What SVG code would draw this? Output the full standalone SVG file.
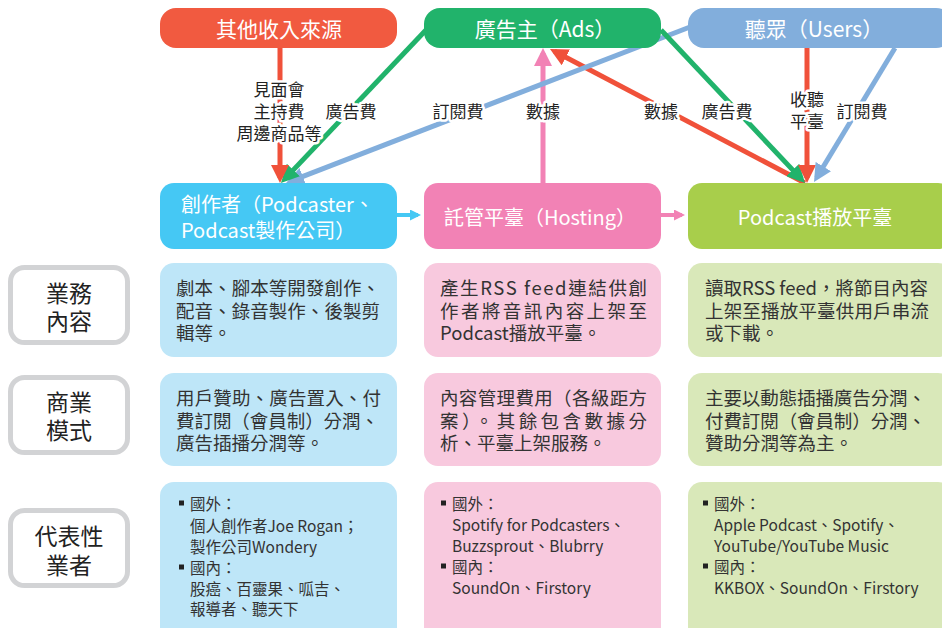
<svg xmlns="http://www.w3.org/2000/svg" width="942" height="628" viewBox="0 0 942 628">
<defs>
<style>
text,tspan{font-family:"Noto Sans CJK TC","Noto Sans",sans-serif;dominant-baseline:central}
.top{font-size:21px;fill:#fff;text-anchor:middle}
.mid{font-size:20px;fill:#fff}
.side{font-size:23px;fill:#222;text-anchor:middle}
.body{font-size:18.5px;fill:#333}
.small{font-size:15.5px;fill:#333}
.lbl{font-size:17px;fill:#222;text-anchor:middle;stroke:#fff;stroke-width:5;stroke-linejoin:round;paint-order:stroke}
.ln{fill:none;stroke-width:5}
.sideBox{fill:#fff;stroke:#D2D3D5;stroke-width:5}
</style>
<marker id="aR" markerUnits="userSpaceOnUse" markerWidth="18" markerHeight="18" refX="13" refY="9" orient="auto"><path d="M0,0L18,9L0,18z" fill="#F0513A"/></marker>
<marker id="aG" markerUnits="userSpaceOnUse" markerWidth="18" markerHeight="18" refX="13" refY="9" orient="auto"><path d="M0,0L18,9L0,18z" fill="#21B36B"/></marker>
<marker id="aB" markerUnits="userSpaceOnUse" markerWidth="18" markerHeight="18" refX="13" refY="9" orient="auto"><path d="M0,0L18,9L0,18z" fill="#82AEDC"/></marker>
<marker id="aP" markerUnits="userSpaceOnUse" markerWidth="18" markerHeight="18" refX="13" refY="9" orient="auto"><path d="M0,0L18,9L0,18z" fill="#F282B5"/></marker>
<marker id="sC" markerUnits="userSpaceOnUse" markerWidth="11" markerHeight="11" refX="8" refY="5.5" orient="auto"><path d="M0,0L11,5.5L0,11z" fill="#45C8F4"/></marker>
<marker id="sP" markerUnits="userSpaceOnUse" markerWidth="11" markerHeight="11" refX="8" refY="5.5" orient="auto"><path d="M0,0L11,5.5L0,11z" fill="#F282B5"/></marker>
</defs>
<rect width="942" height="628" fill="#fff"/>

<g id="connectors">
<path class="ln" d="M805,183L554.4,51.3" stroke="#F0513A" marker-end="url(#aR)"/>
<path class="ln" d="M543,183L543,53" stroke="#F282B5" marker-end="url(#aP)"/>
<path class="ln" d="M690,27L290.7,181.2" stroke="#82AEDC" marker-end="url(#aB)"/>
<path class="ln" d="M426,30L284.4,179.4" stroke="#21B36B" marker-end="url(#aG)"/>
<path class="ln" d="M280,48L280,178" stroke="#F0513A" marker-end="url(#aR)"/>
<path class="ln" d="M661,30L801.6,179.4" stroke="#21B36B" marker-end="url(#aG)"/>
<path class="ln" d="M807,48L807,178" stroke="#F0513A" marker-end="url(#aR)"/>
<path class="ln" d="M895,48L816.6,177.7" stroke="#82AEDC" marker-end="url(#aB)"/>
<path d="M397,215L418,215" stroke="#45C8F4" stroke-width="4" marker-end="url(#sC)"/>
<path d="M661,215L682,215" stroke="#F282B5" stroke-width="4" marker-end="url(#sP)"/>
<text class="lbl" x="279" y="88">見面會<tspan x="279" dy="22">主持費</tspan><tspan x="279" dy="22">周邊商品等</tspan></text>
<text class="lbl" x="351" y="110">廣告費</text>
<text class="lbl" x="458" y="110">訂閱費</text>
<text class="lbl" x="543" y="110">數據</text>
<text class="lbl" x="661" y="110">數據</text>
<text class="lbl" x="727" y="110">廣告費</text>
<text class="lbl" x="807" y="98">收聽<tspan x="807" dy="22">平臺</tspan></text>
<text class="lbl" x="862" y="110">訂閱費</text>
</g>

<g id="other-income">
<rect x="160" y="8" width="237" height="40" rx="16" fill="#F15A40"/>
<text class="top" x="279" y="28">其他收入來源</text>
</g>
<g id="advertisers">
<rect x="424" y="8" width="237" height="40" rx="16" fill="#21B36B"/>
<text class="top" x="545" y="28">廣告主（Ads）</text>
</g>
<g id="users">
<rect x="688" y="8" width="264" height="40" rx="16" fill="#82AEDC"/>
<text class="top" x="814" y="28">聽眾（Users）</text>
</g>

<g id="creator">
<rect x="160" y="183" width="237" height="66" rx="14" fill="#45C8F4"/>
<text class="mid" x="181" y="203">創作者（Podcaster、<tspan x="181" dy="26">Podcast製作公司）</tspan></text>
</g>
<g id="hosting">
<rect x="424" y="183" width="237" height="66" rx="14" fill="#F282B5"/>
<text class="mid" x="540" y="216" text-anchor="middle">託管平臺（Hosting）</text>
</g>
<g id="player">
<rect x="688" y="183" width="264" height="66" rx="14" fill="#A8CE4B"/>
<text class="mid" x="815" y="216" text-anchor="middle">Podcast播放平臺</text>
</g>

<g id="label-business">
<rect class="sideBox" x="10.5" y="267.5" width="117" height="75" rx="14"/>
<text class="side" x="69" y="292">業務<tspan x="69" dy="28">內容</tspan></text>
</g>
<g id="label-model">
<rect class="sideBox" x="10.5" y="377.5" width="117" height="75" rx="14"/>
<text class="side" x="69" y="401">商業<tspan x="69" dy="28">模式</tspan></text>
</g>
<g id="label-players">
<rect class="sideBox" x="10.5" y="510.5" width="117" height="75" rx="14"/>
<text class="side" x="69" y="535">代表性<tspan x="69" dy="29">業者</tspan></text>
</g>

<g id="creator-business">
<rect x="160" y="263" width="237" height="94" rx="14" fill="#BEE6F8"/>
<text class="body" x="176" y="287"><tspan textLength="204" lengthAdjust="spacing">劇本、腳本等開發創作、</tspan><tspan x="176" dy="22.5" textLength="204" lengthAdjust="spacing">配音、錄音製作、後製剪</tspan><tspan x="176" dy="22.5">輯等。</tspan></text>
</g>
<g id="hosting-business">
<rect x="424" y="263" width="237" height="94" rx="14" fill="#F8C9DE"/>
<text class="body" x="440" y="287"><tspan textLength="207" lengthAdjust="spacing">產生RSS feed連結供創</tspan><tspan x="440" dy="22.5" textLength="207" lengthAdjust="spacing">作者將音訊內容上架至</tspan><tspan x="440" dy="22.5">Podcast播放平臺。</tspan></text>
</g>
<g id="player-business">
<rect x="688" y="263" width="264" height="94" rx="14" fill="#D9E8B9"/>
<text class="body" x="705" y="287"><tspan textLength="223" lengthAdjust="spacingAndGlyphs">讀取RSS feed，將節目內容</tspan><tspan x="705" dy="22.5" textLength="224" lengthAdjust="spacing">上架至播放平臺供用戶串流</tspan><tspan x="705" dy="22.5">或下載。</tspan></text>
</g>

<g id="creator-model">
<rect x="160" y="373" width="237" height="93" rx="14" fill="#BEE6F8"/>
<text class="body" x="176" y="397"><tspan textLength="205" lengthAdjust="spacing">用戶贊助、廣告置入、付</tspan><tspan x="176" dy="22.5" textLength="203" lengthAdjust="spacing">費訂閱（會員制）分潤、</tspan><tspan x="176" dy="22.5">廣告插播分潤等。</tspan></text>
</g>
<g id="hosting-model">
<rect x="424" y="373" width="237" height="93" rx="14" fill="#F8C9DE"/>
<text class="body" x="440" y="397"><tspan textLength="207" lengthAdjust="spacing">內容管理費用（各級距方</tspan><tspan x="440" dy="22.5" textLength="207" lengthAdjust="spacing">案）。其餘包含數據分</tspan><tspan x="440" dy="22.5">析、平臺上架服務。</tspan></text>
</g>
<g id="player-model">
<rect x="688" y="373" width="264" height="93" rx="14" fill="#D9E8B9"/>
<text class="body" x="705" y="397"><tspan textLength="221" lengthAdjust="spacing">主要以動態插播廣告分潤、</tspan><tspan x="705" dy="22.5" textLength="221" lengthAdjust="spacing">付費訂閱（會員制）分潤、</tspan><tspan x="705" dy="22.5">贊助分潤等為主。</tspan></text>
</g>

<g id="creator-players">
<rect x="160" y="482" width="237" height="170" rx="14" fill="#BEE6F8"/>
<rect x="179" y="500.5" width="5" height="5" fill="#222"/>
<rect x="179" y="564.5" width="5" height="5" fill="#222"/>
<text class="small" x="190" y="503">國外：<tspan x="190" dy="21.5">個人創作者Joe Rogan；</tspan><tspan x="190" dy="21">製作公司Wondery</tspan><tspan x="190" dy="21">國內：</tspan><tspan x="190" dy="21">股癌、百靈果、呱吉、</tspan><tspan x="190" dy="20.5">報導者、聽天下</tspan></text>
</g>
<g id="hosting-players">
<rect x="424" y="482" width="237" height="170" rx="14" fill="#F8C9DE"/>
<rect x="441" y="500.5" width="5" height="5" fill="#222"/>
<rect x="441" y="563.5" width="5" height="5" fill="#222"/>
<text class="small" x="452" y="503">國外：<tspan x="452" dy="21">Spotify for Podcasters、</tspan><tspan x="452" dy="21">Buzzsprout、Blubrry</tspan><tspan x="452" dy="21">國內：</tspan><tspan x="452" dy="21">SoundOn、Firstory</tspan></text>
</g>
<g id="player-players">
<rect x="688" y="482" width="264" height="170" rx="14" fill="#D9E8B9"/>
<rect x="703" y="500.5" width="5" height="5" fill="#222"/>
<rect x="703" y="563.5" width="5" height="5" fill="#222"/>
<text class="small" x="714" y="503">國外：<tspan x="714" dy="21">Apple Podcast、Spotify、</tspan><tspan x="714" dy="21">YouTube/YouTube Music</tspan><tspan x="714" dy="21">國內：</tspan><tspan x="714" dy="21">KKBOX、SoundOn、Firstory</tspan></text>
</g>
</svg>
